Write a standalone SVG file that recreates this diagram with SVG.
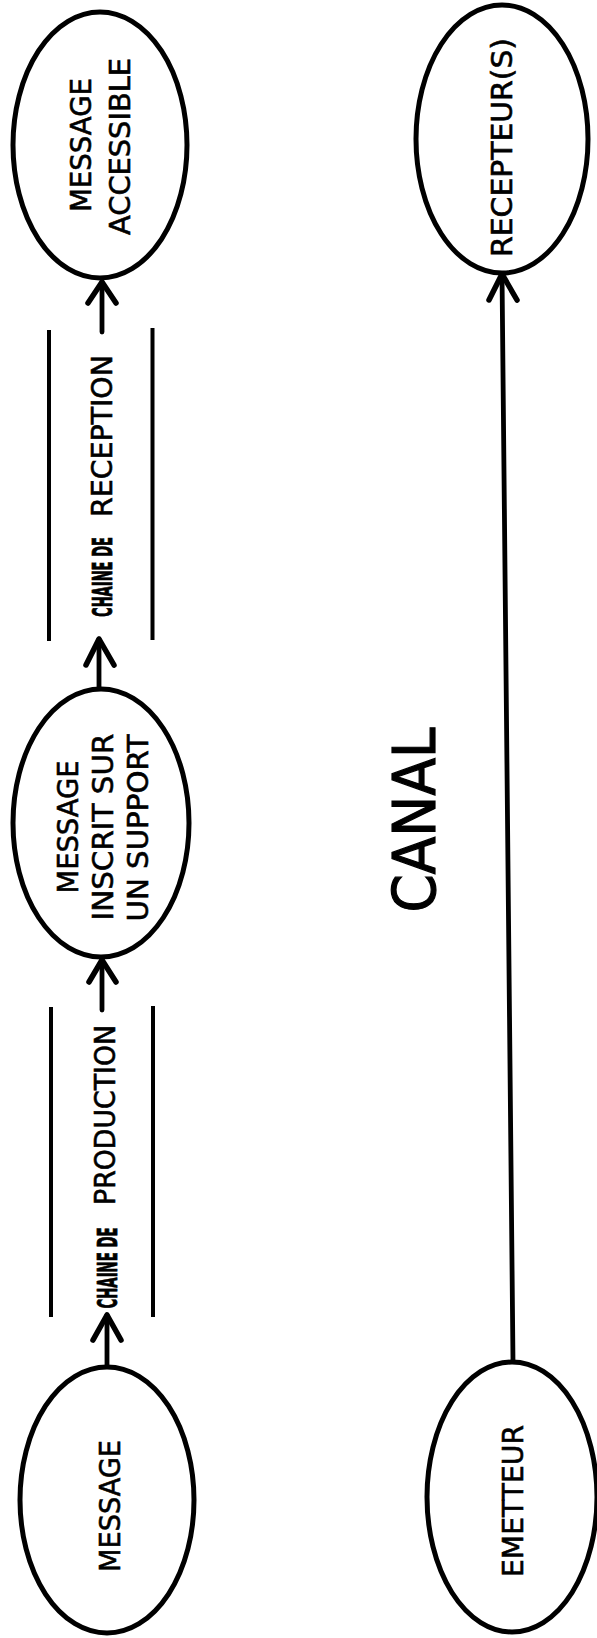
<svg xmlns="http://www.w3.org/2000/svg" width="597" height="1638" viewBox="0 0 597 1638">
<style>
.node ellipse{fill:#fff;stroke:#000;stroke-width:5}
.t{font-family:"DejaVu Sans","Liberation Sans",sans-serif;font-size:28px;fill:#000;stroke:#000;stroke-width:0.6;text-anchor:middle}
.b{font-family:"DejaVu Sans Condensed","DejaVu Sans",sans-serif;font-weight:bold;font-size:27px;fill:#000;stroke:#000;stroke-width:0.8;text-anchor:middle}
.big{font-family:"DejaVu Sans","Liberation Sans",sans-serif;font-size:58px;fill:#000;stroke:#000;stroke-width:1.2;text-anchor:middle}
.c line,.c polyline{stroke:#000;stroke-width:4.8;fill:none;stroke-linecap:round;stroke-linejoin:round}
.c polyline{stroke-width:5.5}
.br line{stroke:#000;stroke-width:4}
</style>
<rect width="597" height="1638" fill="#fff"/>
<g id="connectors" class="c">
  <line x1="107" y1="1367" x2="107" y2="1315"/>
  <polyline points="93,1340 107,1315 121,1340"/>
  <line x1="102" y1="1010" x2="102" y2="960"/>
  <polyline points="89,982 102,960 116,982"/>
  <line x1="99" y1="689" x2="99" y2="639"/>
  <polyline points="86,665 99,639 114,665"/>
  <line x1="102" y1="332" x2="102" y2="282"/>
  <polyline points="88,303 102,282 116,303"/>
  <line x1="513" y1="1362" x2="502" y2="274"/>
  <polyline points="489,300 502,274 517,300"/>
</g>
<g id="brackets" class="br">
  <line x1="49" y1="330" x2="49" y2="641"/>
  <line x1="152.5" y1="328" x2="152.5" y2="640"/>
  <line x1="51" y1="1007" x2="51" y2="1317"/>
  <line x1="153" y1="1006" x2="153" y2="1317"/>
</g>
<g id="label-reception">
  <text class="t" transform="translate(112,436) rotate(-90)" textLength="162" lengthAdjust="spacingAndGlyphs">RECEPTION</text>
  <text class="b" transform="translate(112,577) rotate(-90)" textLength="80" lengthAdjust="spacingAndGlyphs">CHAINE DE</text>
</g>
<g id="label-production">
  <text class="t" transform="translate(115,1115) rotate(-90)" textLength="180" lengthAdjust="spacingAndGlyphs">PRODUCTION</text>
  <text class="b" transform="translate(117,1268) rotate(-90)" textLength="81" lengthAdjust="spacingAndGlyphs">CHAINE DE</text>
</g>
<g id="node-message" class="node">
  <ellipse cx="107" cy="1500" rx="87" ry="133"/>
  <text class="t" transform="translate(120,1506) rotate(-90)" textLength="132" lengthAdjust="spacingAndGlyphs">MESSAGE</text>
</g>
<g id="node-inscrit" class="node">
  <ellipse cx="101" cy="823" rx="88" ry="134"/>
  <text class="t" transform="translate(78,827) rotate(-90)" textLength="133" lengthAdjust="spacingAndGlyphs">MESSAGE</text>
  <text class="t" transform="translate(113,827) rotate(-90)" textLength="187" lengthAdjust="spacingAndGlyphs">INSCRIT SUR</text>
  <text class="t" transform="translate(148,828) rotate(-90)" textLength="187" lengthAdjust="spacingAndGlyphs">UN SUPPORT</text>
</g>
<g id="node-accessible" class="node">
  <ellipse cx="100" cy="145" rx="87" ry="133"/>
  <text class="t" transform="translate(91,145) rotate(-90)" textLength="134" lengthAdjust="spacingAndGlyphs">MESSAGE</text>
  <text class="t" transform="translate(130,146.5) rotate(-90)" textLength="177" lengthAdjust="spacingAndGlyphs">ACCESSIBLE</text>
</g>
<g id="node-emetteur" class="node">
  <ellipse cx="512" cy="1497" rx="85" ry="135"/>
  <text class="t" transform="translate(523,1501) rotate(-90)" textLength="152" lengthAdjust="spacingAndGlyphs">EMETTEUR</text>
</g>
<g id="node-recepteur" class="node">
  <ellipse cx="502" cy="139" rx="86" ry="134"/>
  <text class="t" transform="translate(512,147.5) rotate(-90)" textLength="219" lengthAdjust="spacingAndGlyphs">RECEPTEUR(S)</text>
</g>
<g id="canal">
  <text class="big" transform="translate(435,820) rotate(-90)" textLength="185" lengthAdjust="spacingAndGlyphs">CANAL</text>
</g>
</svg>
